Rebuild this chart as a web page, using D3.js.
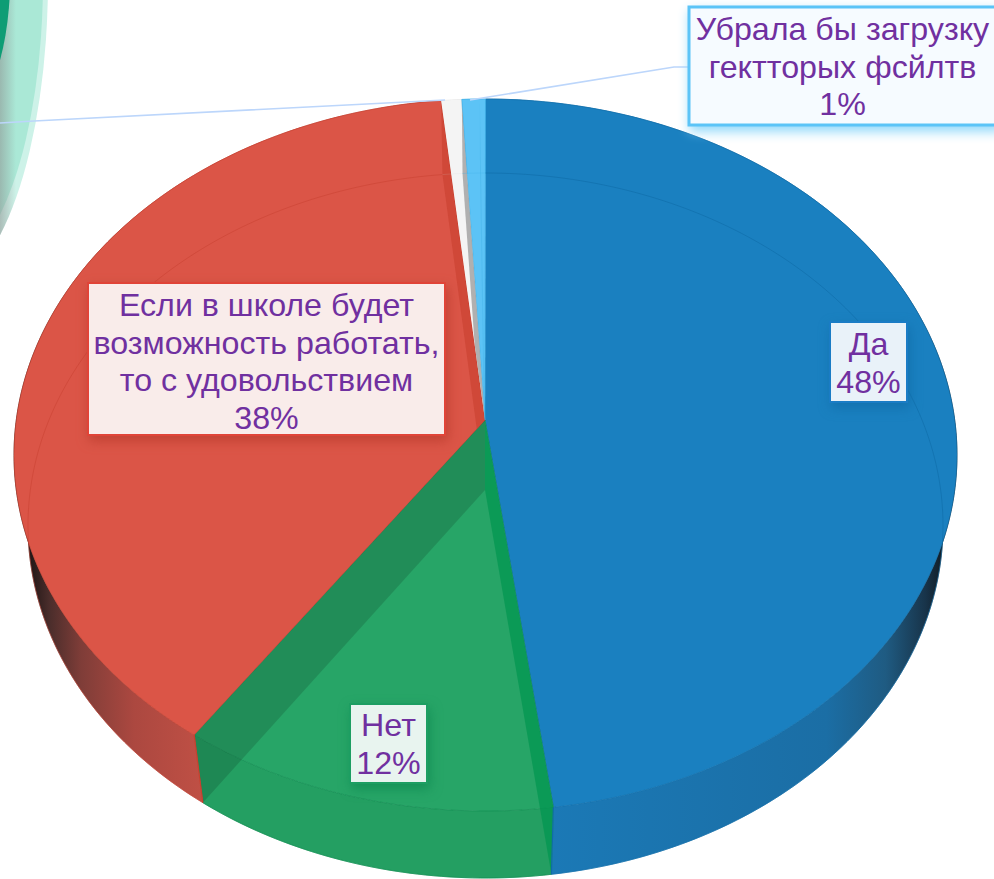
<!DOCTYPE html>
<html lang="ru">
<head>
<meta charset="utf-8">
<title>Круговая диаграмма</title>
<script src="https://cdn.jsdelivr.net/npm/d3@7"></script>
<style>
    html, body { margin: 0; padding: 0; background: #ffffff; overflow: hidden; }
    svg { display: block; }
    text { font-family: "Liberation Sans", Arial, sans-serif; font-size: 32.2px; fill: #7030a0; text-anchor: middle; }
</style>
</head>
<body>
<div id="chart"></div>
<script>
// данные диаграммы, порядок секторов - по часовой стрелке от 12 часов
var categories = ["Да", "Нет", "Если в школе будет возможность работать, то с удовольствием", "", "Убрала бы загрузку гектторых фсйлтв"];
var values = [47.7, 12.9, 37.9, 0.7, 0.8];
var percentLabels = ["48%", "12%", "38%", "", "1%"];
var labelLines = [
    ["Да"],
    ["Нет"],
    ["Если в школе будет", "возможность работать,", "то с удовольствием"],
    [],
    ["Убрала бы загрузку", "гектторых фсйлтв"]
];

// цвета
var topColors = ["#1a80c0", "#27a567", "#db5547", "#f4f4f4", "#5cc3f6"];
var edgeColors = ["#0f6ca8", "#0f8a50", "#c8402f", "#d0d0d0", "#3fb0e8"];
var bandColors = ["#009650", "#000000", "#b52a18", "#9a9a9a", "#2a9fdc"];
var bandOpacity = [0.7, 0.14, 0.3, 0.75, 0.2];
var baseLineOpacity = [0.6, 0.6, 0.5, 0.15, 0.3];
var boxFills = ["#e9f2f9", "#e8f4ef", "#f9ecea", "none", "#f6fbff"];
var boxShadows = ["#0f6ca8bb", "#0d8a50bb", "#b83a2cbb", "none", "#8fd8fa"];
var boxBorders = ["#1a7cc5", "#1d9e62", "#e04438", "none", "#5bc4f7"];

var width = 994,
    height = 879;

var svg = d3.select("#chart").append("svg")
    .attr("width", width)
    .attr("height", height);
var defs = svg.append("defs");

// верхний и нижний эллипсы заданы шкалами: -1..1 переводится в пиксели
var topX = d3.scaleLinear().domain([-1, 1]).range([14, 957]),
    topY = d3.scaleLinear().domain([-1, 1]).range([99, 811]),
    baseX = d3.scaleLinear().domain([-1, 1]).range([28, 943]),
    baseY = d3.scaleLinear().domain([-1, 1]).range([173, 878]);
var topApex = [485, 420],
    baseApex = [485, 490];

function topPoint(a) {
    return [topX(Math.sin(a)), topY(-Math.cos(a))];
}

function basePoint(a) {
    return [baseX(Math.sin(a)), baseY(-Math.cos(a))];
}

// точки дуги с шагом примерно в один градус
function arcPoints(a0, a1, pointFn) {
    var n = Math.max(2, Math.ceil((a1 - a0) / (Math.PI / 180)));
    return d3.range(n + 1).map(function (i) {
        return pointFn(a0 + (a1 - a0) * i / n);
    });
}

var line = d3.line();

function closedPath(points) {
    return line(points) + "Z";
}

var slices = d3.pie().sort(null).startAngle(0).endAngle(2 * Math.PI)(values);

function topPath(d) {
    return closedPath([topApex].concat(arcPoints(d.startAngle, d.endAngle, topPoint)));
}

function wallPath(d) {
    return closedPath(arcPoints(d.startAngle, d.endAngle, topPoint)
        .concat(arcPoints(d.startAngle, d.endAngle, basePoint).reverse()));
}

// градиенты: боковая стенка к краю диска темнеет
function addGradient(id, x1, x2, stops) {
    var g = defs.append("linearGradient")
        .attr("id", id)
        .attr("gradientUnits", "userSpaceOnUse")
        .attr("x1", x1).attr("y1", 0)
        .attr("x2", x2).attr("y2", 0);
    stops.forEach(function (s) {
        g.append("stop")
            .attr("offset", s[0])
            .attr("stop-color", s[1])
            .attr("stop-opacity", s[2] === undefined ? 1 : s[2]);
    });
}

addGradient("wallBlue", 550, 945, [[0, "#1b79b6"], [0.7, "#1b6ea5"], [0.85, "#1f5b82"], [0.95, "#18344a"], [1, "#101a22"]]);
addGradient("wallRed", 28, 205, [[0, "#1e1515"], [0.12, "#4a2d2b"], [0.3, "#7f3d38"], [0.6, "#ac4840"], [1, "#c05045"]]);
addGradient("cornerGray", 0, 16, [[0, "#8a8a8a", 0.5], [1, "#8a8a8a", 0]]);

var wallFills = ["url(#wallBlue)", "#249f62", "url(#wallRed)", "#e0e0e0", "#4ab5ea"];

// обрезка внутренних стенок по своему сектору
slices.forEach(function (d, i) {
    var clip = defs.append("clipPath").attr("id", "clip" + i);
    clip.append("path").attr("d", topPath(d));
    clip.append("path").attr("d", wallPath(d));
});

// кусок соседнего декоративного элемента в левом верхнем углу
defs.append("clipPath").attr("id", "cornerClip")
    .append("ellipse")
    .attr("cx", -60).attr("cy", -20).attr("rx", 108).attr("ry", 307);

var corner = svg.append("g");
corner.append("ellipse")
    .attr("cx", -60).attr("cy", -20).attr("rx", 108).attr("ry", 307)
    .attr("fill", "#cdf2e8");
corner.append("ellipse")
    .attr("cx", -60).attr("cy", -20).attr("rx", 103).attr("ry", 289)
    .attr("fill", "#aae8d6");
corner.append("rect")
    .attr("x", 0).attr("y", 0).attr("width", 16).attr("height", 240)
    .attr("clip-path", "url(#cornerClip)")
    .attr("fill", "url(#cornerGray)");
corner.append("ellipse")
    .attr("cx", -50).attr("cy", -20).attr("rx", 60).attr("ry", 145)
    .attr("fill", "#0e9d75");

// боковые стенки
svg.append("g").selectAll("path")
    .data(slices)
    .join("path")
    .attr("d", wallPath)
    .attr("fill", function (d, i) { return wallFills[i]; })
    .attr("stroke", function (d, i) { return wallFills[i]; })
    .attr("stroke-width", 0.6);

// верхняя грань
svg.append("g").selectAll("path")
    .data(slices)
    .join("path")
    .attr("d", topPath)
    .attr("fill", function (d, i) { return topColors[i]; })
    .attr("stroke", function (d, i) { return edgeColors[i]; })
    .attr("stroke-width", 0.8)
    .attr("stroke-opacity", function (d, i) { return i === 3 ? 0 : 0.8; });

// внутренние стенки просвечивают сквозь сектор
function bandPath(a) {
    return closedPath([topApex, topPoint(a), basePoint(a), baseApex]);
}

var bands = [
    { clip: 1, color: 0, angle: slices[1].startAngle },
    { clip: 1, color: 1, angle: slices[1].endAngle },
    { clip: 2, color: 2, angle: slices[2].endAngle },
    { clip: 3, color: 3, angle: slices[3].endAngle },
    { clip: 4, color: 4, angle: slices[4].endAngle - 0.012 }
];

svg.append("g").selectAll("path")
    .data(bands)
    .join("path")
    .attr("d", function (b) { return bandPath(b.angle); })
    .attr("clip-path", function (b) { return "url(#clip" + b.clip + ")"; })
    .attr("fill", function (b) { return bandColors[b.color]; })
    .attr("fill-opacity", function (b) { return bandOpacity[b.color]; });

// контур нижнего эллипса, виден сквозь верхнюю грань
svg.append("g").selectAll("path")
    .data(slices)
    .join("path")
    .attr("d", function (d) { return line(arcPoints(d.startAngle, d.endAngle, basePoint)); })
    .attr("fill", "none")
    .attr("stroke", function (d, i) { return edgeColors[i]; })
    .attr("stroke-width", 1)
    .attr("stroke-opacity", function (d, i) { return baseLineOpacity[i]; });

// вертикальные ребра на стыках боковых стенок
var edges = [
    { slice: 0, angle: slices[0].endAngle },
    { slice: 2, angle: slices[2].startAngle }
];
svg.append("g").selectAll("path")
    .data(edges)
    .join("path")
    .attr("d", function (e) { return line([topPoint(e.angle), basePoint(e.angle)]); })
    .attr("stroke", function (e) { return edgeColors[e.slice]; })
    .attr("stroke-width", 1.2);

// линии-выноски
var leaders = [
    [[470, 100], [674, 67], [689, 67]],
    [[445, 100], [34, 121], [0, 123]]
];
svg.append("g").selectAll("path")
    .data(leaders)
    .join("path")
    .attr("d", function (d) { return line(d); })
    .attr("fill", "none")
    .attr("stroke", "#bcd6fb")
    .attr("stroke-width", 1.6);

// подписи: рамка и положение первой строки для каждого сектора
var boxes = [
    { x: 830, y: 322, w: 77, h: 80, first: 355 },
    { x: 350, y: 704, w: 77, h: 79, first: 736 },
    { x: 88, y: 283, w: 357, h: 152, first: 316 },
    null,
    { x: 689, y: 7, w: 310, h: 118, first: 40 }
];
var lineStep = 37.7;

var labels = svg.append("g").selectAll("g")
    .data(slices.filter(function (d) { return boxes[d.index]; }))
    .join("g");

labels.append("rect")
    .attr("x", function (d) { return boxes[d.index].x; })
    .attr("y", function (d) { return boxes[d.index].y; })
    .attr("width", function (d) { return boxes[d.index].w; })
    .attr("height", function (d) { return boxes[d.index].h; })
    .attr("fill", function (d) { return boxFills[d.index]; })
    .attr("stroke", function (d) { return boxBorders[d.index]; })
    .attr("stroke-width", function (d) { return d.index === 4 ? 3 : 2; })
    .style("filter", function (d) { return "drop-shadow(2px 5px 6px " + boxShadows[d.index] + ")"; });

labels.each(function (d) {
    var box = boxes[d.index],
        rows = labelLines[d.index].concat([percentLabels[d.index]]),
        centerX = d.index === 4 ? 842.5 : box.x + box.w / 2;
    d3.select(this).selectAll("text")
        .data(rows)
        .join("text")
        .attr("x", centerX)
        .attr("y", function (row, i) { return box.first + i * lineStep; })
        .text(function (row) { return row; });
});
</script>
</body>
</html>
